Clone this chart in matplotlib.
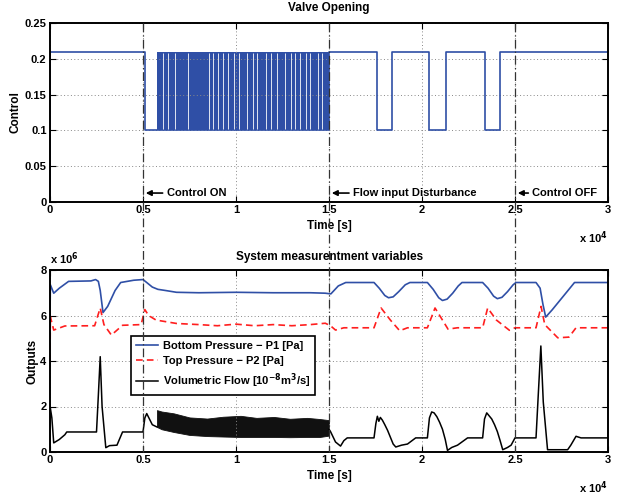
import matplotlib
matplotlib.use("Agg")
import matplotlib.pyplot as plt
from matplotlib.lines import Line2D
import matplotlib.transforms as mtransforms

plt.rcParams['font.family'] = ['Liberation Sans Narrow', 'Liberation Sans', 'DejaVu Sans']
plt.rcParams['font.weight'] = 'bold'
plt.rcParams['axes.labelweight'] = 'bold'
plt.rcParams['axes.titleweight'] = 'bold'
plt.rcParams['font.size'] = 8.5

BLUE = '#2f4fa6'
RED = '#ff1e1e'

# ---- valve opening (time in 1e4 s) ----
ctrl_t = [0, 0.001, 0.512, 0.575, 1.5, 1.76, 1.84, 2.035, 2.127, 2.337, 2.42, 3.0]
ctrl_v = [0, 0.21, 0.1, 0.1, 0.21, 0.1, 0.21, 0.1, 0.21, 0.1, 0.21, 0.21]
dense_span = [0.575, 1.5]
dense_lo, dense_hi = 0.1, 0.21
gap_t = [0.605, 0.634, 0.673, 0.741, 0.853, 0.876, 0.901, 0.930, 0.955, 0.987,
         1.018, 1.059, 1.090, 1.113, 1.160, 1.188, 1.221, 1.266, 1.296, 1.319,
         1.346, 1.377, 1.400, 1.442, 1.463]

events_t = [0.5, 1.5, 2.5]
events_txt = ['Control ON', 'Flow input Disturbance', 'Control OFF']

# ---- measurements (time 1e4 s, values 1e6) ----
p1_t = [0, 0.002, 0.02, 0.05, 0.1, 0.22, 0.245, 0.26, 0.27, 0.285, 0.31, 0.35, 0.38,
        0.45, 0.5, 0.52, 0.55, 0.58, 0.62, 0.68, 0.8, 1.0, 1.2, 1.4, 1.48, 1.51,
        1.55, 1.59,
        1.742, 1.77, 1.80, 1.82, 1.845, 1.875, 1.91, 1.935,
        2.029, 2.06, 2.09, 2.11, 2.135, 2.165, 2.195, 2.215,
        2.326, 2.355, 2.385, 2.405, 2.43, 2.46, 2.49, 2.505,
        2.613, 2.635, 2.65, 2.665, 2.7, 2.76, 2.82, 3.0]
p1_v = [6.0, 7.35, 6.98, 7.2, 7.5, 7.52, 7.58, 7.5, 7.1, 6.13, 6.4, 7.1, 7.45,
        7.55, 7.58, 7.45, 7.25, 7.15, 7.1, 7.02, 7.0, 7.02, 7.0, 7.0, 6.98, 6.95,
        7.3, 7.45,
        7.45, 7.2, 6.88, 6.78, 6.82, 7.05, 7.35, 7.45,
        7.45, 7.15, 6.78, 6.66, 6.72, 6.98, 7.3, 7.45,
        7.45, 7.2, 6.85, 6.74, 6.8, 7.05, 7.35, 7.45,
        7.45, 7.2, 6.5, 5.93, 6.25, 6.85, 7.45, 7.45]

p2_t = [0, 0.002, 0.02, 0.08, 0.24, 0.27, 0.29, 0.33, 0.39, 0.49, 0.51, 0.53,
        0.57, 0.68, 0.8, 0.9, 1.0, 1.1, 1.2, 1.3, 1.4, 1.48, 1.508, 1.535, 1.58,
        1.742, 1.78, 1.83, 1.88, 1.922, 2.029, 2.07, 2.11, 2.14, 2.19, 2.326,
        2.353, 2.40, 2.47, 2.50, 2.613, 2.64, 2.66, 2.73, 2.79, 2.828, 3.0]
p2_v = [4.0, 5.95, 5.36, 5.54, 5.55, 6.33, 5.6, 5.14, 5.57, 5.6, 6.26, 6.0,
        5.8, 5.65, 5.6, 5.55, 5.62, 5.55, 5.6, 5.55, 5.6, 5.66, 5.55, 5.36, 5.46,
        5.46, 6.33, 5.8, 5.33, 5.46, 5.46, 6.33, 5.8, 5.4, 5.46, 5.46,
        6.33, 5.8, 5.35, 5.46, 5.46, 6.4, 5.6, 5.02, 5.05, 5.46, 5.46]

flow_a_t = [0, 0.001, 0.01, 0.02, 0.05, 0.08, 0.09, 0.25, 0.26, 0.27, 0.28,
            0.30, 0.32, 0.36, 0.39, 0.5, 0.51, 0.52, 0.55, 0.575]
flow_a_v = [0, 1.98, 1.5, 0.4, 0.55, 0.76, 0.88, 0.88, 2.5, 4.19, 2.0,
            0.19, 0.28, 0.3, 0.88, 0.88, 1.5, 1.69, 1.2, 1.1]

band_t = [0.575, 0.6, 0.665, 0.75, 0.845, 0.93, 1.025, 1.11, 1.204, 1.29, 1.383, 1.45, 1.5]
band_hi = [1.84, 1.78, 1.70, 1.52, 1.47, 1.55, 1.59, 1.50, 1.54, 1.46, 1.50, 1.45, 1.40]
band_lo = [1.10, 1.0, 0.88, 0.75, 0.70, 0.68, 0.66, 0.66, 0.66, 0.65, 0.66, 0.66, 0.72]

flow_b_t = [1.5, 1.508, 1.535, 1.562, 1.58, 1.598, 1.742,
            1.752, 1.760, 1.768, 1.776, 1.787, 1.80, 1.815, 1.83, 1.845, 1.859,
            1.89, 1.922, 1.966,
            2.029, 2.040, 2.052, 2.065, 2.08, 2.095, 2.11, 2.125, 2.137,
            2.16, 2.191, 2.245,
            2.326, 2.336, 2.348, 2.360, 2.375, 2.39, 2.405, 2.42, 2.434,
            2.46, 2.479, 2.500, 2.613, 2.625, 2.639, 2.652, 2.675, 2.783, 2.80,
            2.828, 2.855, 3.0]
flow_b_v = [1.0, 0.9, 0.44, 0.26, 0.5, 0.62, 0.62,
            1.25, 1.57, 1.35, 1.52, 1.40, 1.2, 0.95, 0.65, 0.35, 0.22,
            0.3, 0.35, 0.62,
            0.62, 1.5, 1.76, 1.72, 1.55, 1.3, 1.0, 0.55, 0.07,
            0.2, 0.3, 0.62,
            0.62, 1.45, 1.72, 1.6, 1.45, 1.2, 0.9, 0.5, 0.1,
            0.2, 0.3, 0.62, 0.62, 2.5, 4.66, 2.2, 0.1, 0.1, 0.3,
            0.69, 0.62, 0.62]

fig = plt.figure(figsize=(6.31, 4.97), dpi=100)
ax1 = fig.add_axes([50 / 631, 1 - 202 / 497, 558 / 631, 179 / 497])
ax2 = fig.add_axes([50 / 631, 1 - 452 / 497, 558 / 631, 182 / 497])


def matlab_style(ax):
    ax.grid(True, linestyle=(0, (1, 2.5)), color='#888888', linewidth=0.7)
    ax.tick_params(direction='in', top=True, right=True, length=4, width=0.8,
                   pad=2.5, labelsize=8)
    for s in ax.spines.values():
        s.set_linewidth(1.4)
    ax.set_xlim(0, 3)
    ax.set_xticks([0, 0.5, 1, 1.5, 2, 2.5, 3])
    ax.set_xticklabels(['0', '0.5', '1', '1.5', '2', '2.5', '3'])


# top
ax1.plot(ctrl_t, ctrl_v, drawstyle='steps-post', color=BLUE, lw=1.2)
ax1.fill_between(dense_span, dense_lo, dense_hi, color=BLUE, lw=0)
ax1.vlines(gap_t, dense_lo + 0.002, dense_hi - 0.002, color='white', lw=0.7, alpha=0.85)
ax1.set_ylim(0, 0.25)
ax1.set_yticks([0, 0.05, 0.1, 0.15, 0.2, 0.25])
ax1.set_yticklabels(['0', '0.05', '0.1', '0.15', '0.2', '0.25'])
matlab_style(ax1)
ax1.set_title('Valve Opening', fontsize=8.5, pad=9)
ax1.set_xlabel('Time [s]', labelpad=3)
ax1.set_ylabel('Control', labelpad=2)

text_x = [0.628, 1.63, 2.594]
for t, txt, tx in zip(events_t, events_txt, text_x):
    ax1.annotate(txt, xy=(t + 0.015, 0.0125), xytext=(tx, 0.0125),
                 ha='left', va='center', fontsize=8,
                 arrowprops=dict(arrowstyle='-|>', color='black', lw=1.2,
                                 mutation_scale=8, shrinkA=1, shrinkB=0))

# bottom
ax2.plot(p1_t, p1_v, color=BLUE, lw=1.2, label='Bottom Pressure \u2212 P1 [Pa]')
ax2.plot(p2_t, p2_v, color=RED, lw=1.2, ls=(0, (4, 2.5)), label='Top Pressure \u2212 P2 [Pa]')
ax2.plot(flow_a_t, flow_a_v, color='black', lw=1.1, label=r'Volumetric Flow [10$^{-8}$m$^3$/s]')
ax2.fill_between(band_t, band_lo, band_hi, color='#111111', lw=0.6)
ax2.plot(flow_b_t, flow_b_v, color='black', lw=1.1)
ax2.set_ylim(0, 8)
ax2.set_yticks([0, 2, 4, 6, 8])
matlab_style(ax2)
ax2.set_xlabel('Time [s]', labelpad=3)
ax2.set_ylabel('Outputs', labelpad=1)
fig.text(330 / 631, 1 - 257 / 497, 'System measurentment variables', ha='center', va='center')
fig.text(50 / 631, 1 - 259 / 497, r'x 10$^6$', ha='left', va='center', fontsize=8)
fig.text(608 / 631, 1 - 238 / 497, r'x 10$^4$', ha='right', va='center', fontsize=8)
fig.text(608 / 631, 1 - 488 / 497, r'x 10$^4$', ha='right', va='center', fontsize=8)

leg = ax2.legend(loc='upper left', bbox_to_anchor=(0.135, 0.67), fancybox=False,
                 edgecolor='black', framealpha=1, fontsize=8, handlelength=2.0,
                 borderpad=0.45, labelspacing=0.5, handletextpad=0.4)
leg.get_frame().set_linewidth(1.2)

# event lines across both panels
trans = mtransforms.blended_transform_factory(ax1.transData, fig.transFigure)
for t in events_t:
    fig.add_artist(Line2D([t, t], [1 - 23 / 497, 1 - 452 / 497], transform=trans,
                          color='#333333', lw=0.9, ls=(0, (7, 2.5, 1, 2.5))))

fig.savefig('out.png', dpi=100)
